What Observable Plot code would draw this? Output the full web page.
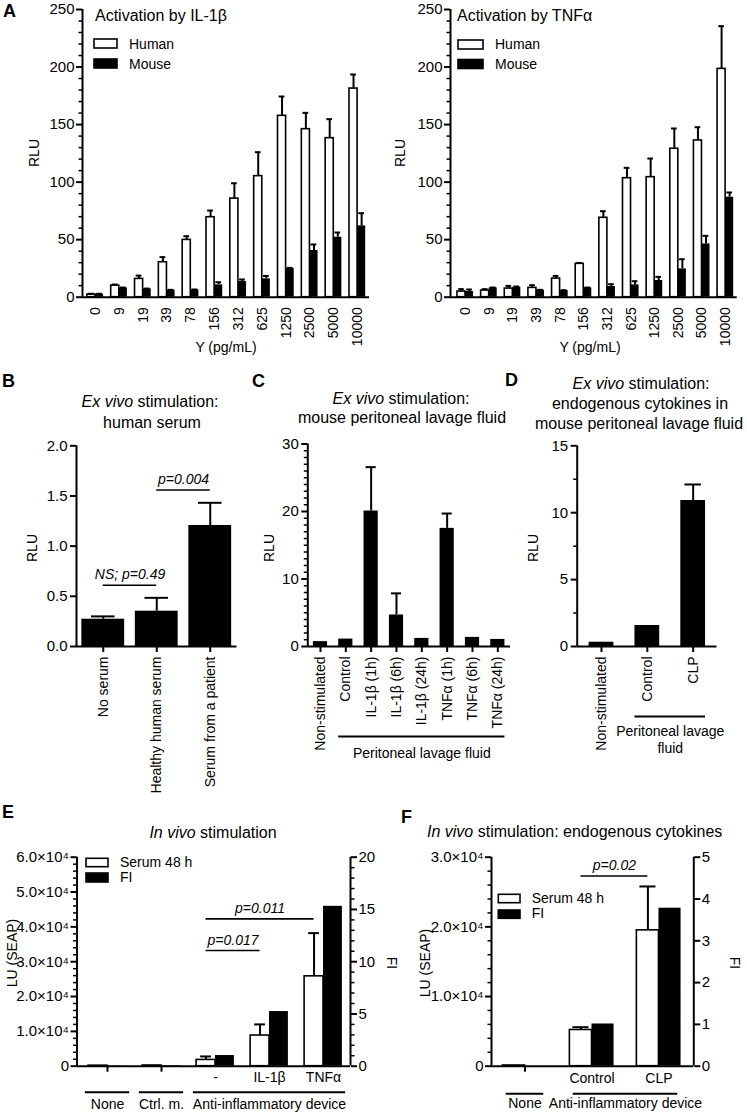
<!DOCTYPE html>
<html><head><meta charset="utf-8">
<script src="https://cdn.jsdelivr.net/npm/d3@7"></script>
<script src="https://cdn.jsdelivr.net/npm/@observablehq/plot@0.6"></script>
<style>
html,body{margin:0;padding:0;background:#fff;}
#fig{position:relative;width:747px;height:1113px;overflow:hidden;background:#fff;}
</style></head><body><div id="fig"></div>
<script>
// ---------- Panel A ----------
const concentrations = ["0","9","19","39","78","156","312","625","1250","2500","5000","10000"];
const il1bHuman    = [2.3, 10.1, 15.9, 30.4, 49.8, 69.5, 85.7, 105.2, 157.6, 146.0, 138.2, 181.3];
const il1bHumanErr = [0.7, 0.9, 2.9, 4.4, 3.2, 5.8, 13.3, 20.8, 16.8, 14.2, 16.5, 12.2];
const il1bMouse    = [2.6, 8.1, 7.2, 6.1, 6.4, 10.7, 13.6, 15.9, 24.9, 40.6, 52.1, 62.0];
const il1bMouseErr = [0.4, 0.3, 0.3, 0.3, 0.3, 2.3, 1.8, 2.6, 0.6, 5.2, 4.1, 11.0];
const tnfHuman     = [4.9, 5.8, 7.5, 8.1, 16.2, 29.0, 69.0, 103.4, 104.3, 129.0, 136.2, 198.4];
const tnfHumanErr  = [2.1, 1.2, 2.3, 2.3, 2.3, 0.8, 5.7, 9.0, 16.2, 17.6, 11.5, 37.1];
const tnfMouse     = [4.9, 8.1, 8.7, 6.1, 5.8, 8.1, 9.3, 10.7, 14.5, 24.6, 46.3, 86.9];
const tnfMouseErr  = [1.8, 0.3, 0.6, 0.3, 0.3, 0.3, 2.0, 3.2, 3.2, 8.4, 7.0, 4.1];
const rluTicksA = [0, 50, 100, 150, 200, 250];

// ---------- Panel B ----------
const serumGroups = ["No serum", "Healthy human serum", "Serum from a patient"];
const serumRLU = [0.272, 0.352, 1.206];
const serumErr = [0.028, 0.133, 0.226];
const serumTests = [{from: 0, to: 1, y: 0.61, label: "NS; p=0.49"}, {from: 1, to: 2, y: 1.56, label: "p=0.004"}];
const rluTicksB = [0, 0.5, 1.0, 1.5, 2.0];

// ---------- Panel C ----------
const lavageGroups = ["Non-stimulated", "Control", "IL-1β (1h)", "IL-1β (6h)", "IL-1β (24h)", "TNFα (1h)", "TNFα (6h)", "TNFα (24h)"];
const lavageRLU = [0.72, 1.1, 20.07, 4.67, 1.2, 17.5, 1.35, 1.05];
const lavageErr = [0, 0, 6.5, 3.2, 0, 2.2, 0, 0];
const lavageBrackets = [{name: "Peritoneal lavage fluid", from: 1, to: 7}];
const rluTicksC = [0, 10, 20, 30];

// ---------- Panel D ----------
const clpGroups = ["Non-stimulated", "Control", "CLP"];
const clpRLU = [0.32, 1.57, 10.91];
const clpErr = [0, 0, 1.2];
const clpBrackets = [{name: "Peritoneal lavage\nfluid", from: 1, to: 2}];
const rluTicksD = [0, 5, 10, 15];

// ---------- Panel E ----------
const vivoGroups = ["", "", "-", "IL-1β", "TNFα"];
const vivoSerum = [150, 200, 1800, 8800, 25800];
const vivoSerumErr = [0, 0, 1000, 3200, 12400];
const vivoFI = [0.03, 0.05, 1.02, 5.23, 15.3];
const vivoBrackets = [{name: "None", from: 0, to: 0}, {name: "Ctrl. m.", from: 1, to: 1}, {name: "Anti-inflammatory device", from: 2, to: 4}];
const vivoTests = [{from: 2, to: 4, y: 42300, label: "p=0.011"}, {from: 2, to: 3, y: 33200, label: "p=0.017"}];
const luTicksE = [0, 10000, 20000, 30000, 40000, 50000, 60000];
const fiTicksE = [0, 5, 10, 15, 20];

// ---------- Panel F ----------
const endoGroups = ["", "Control", "CLP"];
const endoSerum = [100, 5200, 19500];
const endoSerumErr = [0, 400, 6300];
const endoFI = [0, 1.01, 3.78];
const endoBrackets = [{name: "None", from: 0, to: 0}, {name: "Anti-inflammatory device", from: 1, to: 2}];
const endoTests = [{from: 1, to: 2, y: 27300, label: "p=0.02"}];
const luTicksF = [0, 10000, 20000, 30000];
const fiTicksF = [0, 1, 2, 3, 4, 5];

// ================= helpers =================
const FONT = '"Liberation Sans", Arial, Helvetica, sans-serif';
const fig = document.getElementById("fig");
const rows = (vals, errs) => vals.map((v, i) => ({i, value: v, err: errs ? errs[i] : 0}));
const range = (a, b, s) => d3.range(a, b + s / 2, s);
const minorsOf = (lo, hi, step, majors) => range(lo, hi, step).filter(v => !majors.some(m => Math.abs(m - v) < 1e-9));

function chart({left, top, width, height, frame, xDomain, yDomain, marks}) {
  const [fx0, fy0, fx1, fy1] = frame;
  const svg = Plot.plot({
    width, height,
    marginLeft: fx0 - left, marginRight: left + width - fx1,
    marginTop: fy0 - top, marginBottom: top + height - fy1,
    x: {type: "linear", domain: xDomain},
    y: {type: "linear", domain: yDomain},
    style: {fontFamily: FONT, fontSize: "14px", color: "black", background: "transparent", overflow: "visible"},
    marks
  });
  svg.style.position = "absolute";
  svg.style.left = left + "px";
  svg.style.top = top + "px";
  svg.style.maxWidth = "none";
  fig.appendChild(svg);
}
function yAxis(majors, minors, fmt, {anchor = "left", k = 1, padding = 2} = {}) {
  const m = [Plot.axisY({anchor, ticks: majors.map(v => v * k), tickFormat: d => fmt(d / k), tickSize: 6, tickPadding: padding, fontSize: 15, strokeWidth: 2, label: null})];
  if (minors.length) m.push(Plot.axisY({anchor, ticks: minors.map(v => v * k), tickFormat: () => "", tickSize: 3.5, strokeWidth: 1.5, label: null}));
  return m;
}
function axisLines(xDomain, right = false) {
  const m = [Plot.ruleY([0], {strokeWidth: 2}), Plot.ruleX([xDomain[0]], {strokeWidth: 2})];
  if (right) m.push(Plot.ruleX([xDomain[1]], {strokeWidth: 2}));
  return m;
}
function errorBars(data, xc, cap, k = 1) {
  const d = data.filter(r => r.err > 0);
  const top = r => (r.value + r.err) * k;
  return [
    Plot.ruleX(d, {x: xc, y1: r => r.value * k, y2: top, strokeWidth: 2}),
    Plot.ruleY(d, {y: top, x1: r => xc(r) - cap, x2: r => xc(r) + cap, strokeWidth: 2})
  ];
}
function whiteBars(data, x1, x2) {
  return Plot.rect(data, {x1, x2, y1: 0, y2: "value", fill: "white", stroke: "black", strokeWidth: 1.6});
}
function blackBars(data, x1, x2, k = 1) {
  return Plot.rect(data, {x1, x2, y1: 0, y2: r => r.value * k, fill: "black"});
}
function pTests(tests, xOf) {
  return [
    Plot.ruleY(tests, {y: "y", x1: t => xOf(t.from), x2: t => xOf(t.to), strokeWidth: 1.6}),
    Plot.text(tests, {x: t => (xOf(t.from) + xOf(t.to)) / 2, y: "y", text: "label", dy: -6, lineAnchor: "bottom", fontStyle: "italic", fontSize: 14})
  ];
}
function brackets(groups, half, lineDy, textDy) {
  return [
    Plot.ruleY(groups, {y: 0, x1: g => g.from - half, x2: g => g.to + half, dy: lineDy, strokeWidth: 2}),
    Plot.text(groups, {x: g => (g.from + g.to) / 2, y: 0, text: "name", dy: textDy, lineAnchor: "bottom", fontSize: 14, lineHeight: 1.15})
  ];
}
const sciFmt = d => d === 0 ? "0" : (d / 1e4).toFixed(1) + "×10⁴";

// ================= Panel A (left & right) =================
function panelA({left, frame, xDomain, human, humanErr, mouse, mouseErr}) {
  const H = rows(human, humanErr), M = rows(mouse, mouseErr);
  chart({
    left, top: 0, width: (left === 0 ? 375 : 372), height: 370, frame, xDomain, yDomain: [0, 250],
    marks: [
      whiteBars(H, r => r.i - 0.34, r => r.i),
      blackBars(M, r => r.i, r => r.i + 0.34),
      ...errorBars(H, r => r.i - 0.17, 0.12),
      ...errorBars(M, r => r.i + 0.17, 0.12),
      ...yAxis(rluTicksA, minorsOf(0, 250, 10, rluTicksA), d => String(d)),
      Plot.axisX({ticks: d3.range(concentrations.length), tickFormat: i => concentrations[i], tickRotate: -90, tickSize: 0, tickPadding: 10, fontSize: 14, label: null}),
      ...axisLines(xDomain)
    ]
  });
}
panelA({left: 0, frame: [82, 9, 369, 296.7], xDomain: [-0.544, 11.5], human: il1bHuman, humanErr: il1bHumanErr, mouse: il1bMouse, mouseErr: il1bMouseErr});
panelA({left: 375, frame: [450, 9, 736.7, 296.7], xDomain: [-0.635, 11.49], human: tnfHuman, humanErr: tnfHumanErr, mouse: tnfMouse, mouseErr: tnfMouseErr});

// ================= Single-series panels B, C, D =================
function singlePanel({left, width, frame, xDomain, yDomain, groups, vals, errs, half, cap, majors, minors, fmt, extra = []}) {
  const R = rows(vals, errs);
  chart({
    left, top: 438, width, height: 362, frame, xDomain, yDomain,
    marks: [
      blackBars(R, r => r.i - half, r => r.i + half),
      ...errorBars(R, r => r.i, cap),
      ...yAxis(majors, minors, fmt, {padding: 3}),
      Plot.axisX({ticks: d3.range(groups.length), tickFormat: i => groups[i], tickRotate: -90, tickSize: 6, tickPadding: 4, fontSize: 14, strokeWidth: 2, label: null}),
      ...extra,
      ...axisLines(xDomain)
    ]
  });
}
singlePanel({left: 0, width: 245, frame: [76, 445.3, 236.5, 646], xDomain: [-0.5, 2.5], yDomain: [0, 2],
  groups: serumGroups, vals: serumRLU, errs: serumErr, half: 0.4, cap: 0.22,
  majors: rluTicksB, minors: [], fmt: d3.format(".1f"), extra: pTests(serumTests, i => i)});
singlePanel({left: 250, width: 265, frame: [307.3, 443.5, 510, 646], xDomain: [-0.5, 7.5], yDomain: [0, 30],
  groups: lavageGroups, vals: lavageRLU, errs: lavageErr, half: 0.28, cap: 0.2,
  majors: rluTicksC, minors: minorsOf(0, 30, 1, rluTicksC), fmt: d => String(d), extra: brackets(lavageBrackets, 0.28, 90, 111)});
singlePanel({left: 515, width: 232, frame: [576.7, 445.3, 716.5, 646], xDomain: [-0.53, 2.52], yDomain: [0, 15],
  groups: clpGroups, vals: clpRLU, errs: clpErr, half: 0.27, cap: 0.18,
  majors: rluTicksD, minors: minorsOf(0, 15, 2.5, rluTicksD), fmt: d => String(d), extra: brackets(clpBrackets, 0.27, 70, 106)});

// ================= Dual-axis panels E, F =================
function dualPanel({left, width, frame, xDomain, yMax, k, groups, serum, serumErr, fi, w, cap, luTicks, luStep, fiTicks, fiStep, brk, brkHalf, brkDy, tests, tickIdx, labelPad}) {
  const S = rows(serum, serumErr), F = rows(fi);
  chart({
    left, top: 840, width, height: 273, frame, xDomain, yDomain: [0, yMax],
    marks: [
      whiteBars(S, r => r.i - w, r => r.i),
      blackBars(F.filter(r => r.value > 0), r => r.i, r => r.i + w, k),
      ...errorBars(S, r => r.i - w / 2, cap),
      ...yAxis(luTicks, minorsOf(0, yMax, luStep, luTicks), sciFmt, {padding: 2}),
      ...yAxis(fiTicks, fiStep ? minorsOf(0, yMax / k, fiStep, fiTicks) : [], d => String(Math.round(d)), {anchor: "right", k, padding: 2}),
      Plot.axisX({ticks: tickIdx, tickFormat: () => "", tickSize: 6, strokeWidth: 2, label: null}),
      Plot.axisX({ticks: d3.range(groups.length).filter(i => groups[i] !== ""), tickFormat: i => groups[i], tickSize: 0, tickPadding: labelPad, fontSize: 14, label: null}),
      ...brackets(brk, brkHalf, brkDy[0], brkDy[1]),
      ...pTests(tests, i => i - w / 2),
      ...axisLines(xDomain, true)
    ]
  });
}
dualPanel({left: 0, width: 380, frame: [76.5, 856.7, 350, 1065.7], xDomain: [-0.565, 4.5], yMax: 60000, k: 3000,
  groups: vivoGroups, serum: vivoSerum, serumErr: vivoSerumErr, fi: vivoFI, w: 0.35, cap: 0.1,
  luTicks: luTicksE, luStep: 2000, fiTicks: fiTicksE, fiStep: 1, brk: vivoBrackets, brkHalf: 0.41, brkDy: [26, 42.3],
  tests: vivoTests, tickIdx: [0, 1], labelPad: 6});
dualPanel({left: 380, width: 367, frame: [491, 856.7, 693.3, 1065.7], xDomain: [-0.5, 2.52], yMax: 30000, k: 6000,
  groups: endoGroups, serum: endoSerum, serumErr: endoSerumErr, fi: endoFI, w: 0.33, cap: 0.12,
  luTicks: luTicksF, luStep: 2000, fiTicks: fiTicksF, fiStep: 0, brk: endoBrackets, brkHalf: 0.28, brkDy: [27.6, 41.3],
  tests: endoTests, tickIdx: [0], labelPad: 7});

// ================= Titles, labels, legends =================
const ov = d3.select(fig).append("svg").attr("width", 747).attr("height", 1113)
  .style("position", "absolute").style("left", "0px").style("top", "0px").style("overflow", "visible")
  .attr("font-family", FONT).attr("fill", "black");
function label(x, y, parts, {size = 14, anchor = "start", weight = "normal", rotate = 0} = {}) {
  const t = ov.append("text").attr("transform", `translate(${x},${y}) rotate(${rotate})`)
    .attr("font-size", size).attr("text-anchor", anchor).attr("font-weight", weight);
  (Array.isArray(parts) ? parts : [[parts, false]]).forEach(([s, it]) =>
    t.append("tspan").attr("font-style", it ? "italic" : "normal").text(s));
}
function swatch(x, y, w, h, filled) {
  ov.append("rect").attr("x", x).attr("y", y).attr("width", w).attr("height", h)
    .attr("fill", filled ? "black" : "white").attr("stroke", "black").attr("stroke-width", 1.6);
}
// panel letters
[["A", 3, 17], ["B", 2, 387], ["C", 252, 387], ["D", 505, 386], ["E", 2, 818], ["F", 401, 823]]
  .forEach(([s, x, y]) => label(x, y, s, {size: 18, weight: "bold"}));
// A
label(95, 20.5, "Activation by IL-1β", {size: 16});
label(457, 20.5, "Activation by TNFα", {size: 16});
swatch(94, 39, 23, 9, false); swatch(94, 59, 23, 9, true);
label(129, 48.5, "Human"); label(129, 68.5, "Mouse");
swatch(458, 40, 25, 9, false); swatch(458, 59.5, 25, 9, true);
label(495, 49, "Human"); label(495, 68.5, "Mouse");
label(39, 153, "RLU", {anchor: "middle", rotate: -90});
label(405, 153, "RLU", {anchor: "middle", rotate: -90});
label(226, 352, "Y (pg/mL)", {anchor: "middle"});
label(590, 352, "Y (pg/mL)", {anchor: "middle"});
// B
label(150, 407, [["Ex vivo", true], [" stimulation:", false]], {size: 16, anchor: "middle"});
label(152, 428, "human serum", {size: 16, anchor: "middle"});
label(37, 548, "RLU", {anchor: "middle", rotate: -90});
// C
label(401, 404, [["Ex vivo", true], [" stimulation:", false]], {size: 16, anchor: "middle"});
label(402, 423, "mouse peritoneal lavage fluid", {size: 16, anchor: "middle"});
label(274, 548, "RLU", {anchor: "middle", rotate: -90});
// D
label(641, 389, [["Ex vivo", true], [" stimulation:", false]], {size: 16, anchor: "middle"});
label(640, 409, "endogenous cytokines in", {size: 16, anchor: "middle"});
label(639, 429, "mouse peritoneal lavage fluid", {size: 16, anchor: "middle"});
label(538, 548, "RLU", {anchor: "middle", rotate: -90});
// E
label(213, 838, [["In vivo", true], [" stimulation", false]], {size: 16, anchor: "middle"});
label(17, 953, "LU (SEAP)", {anchor: "middle", rotate: -90});
label(387, 963, "FI", {anchor: "middle", rotate: 90});
swatch(86, 858.3, 22, 8.4, false); swatch(86, 873, 22, 9, true);
label(120, 866.5, "Serum 48 h"); label(120, 881.5, "FI");
// F
label(427, 837, [["In vivo", true], [" stimulation: endogenous cytokines", false]], {size: 16});
label(430, 963, "LU (SEAP)", {anchor: "middle", rotate: -90});
label(730, 963, "FI", {anchor: "middle", rotate: 90});
swatch(498.3, 894.3, 21.7, 8.4, false); swatch(498.3, 910, 21.7, 8.3, true);
label(531.7, 902.5, "Serum 48 h"); label(531.7, 918, "FI");
</script></body></html>
